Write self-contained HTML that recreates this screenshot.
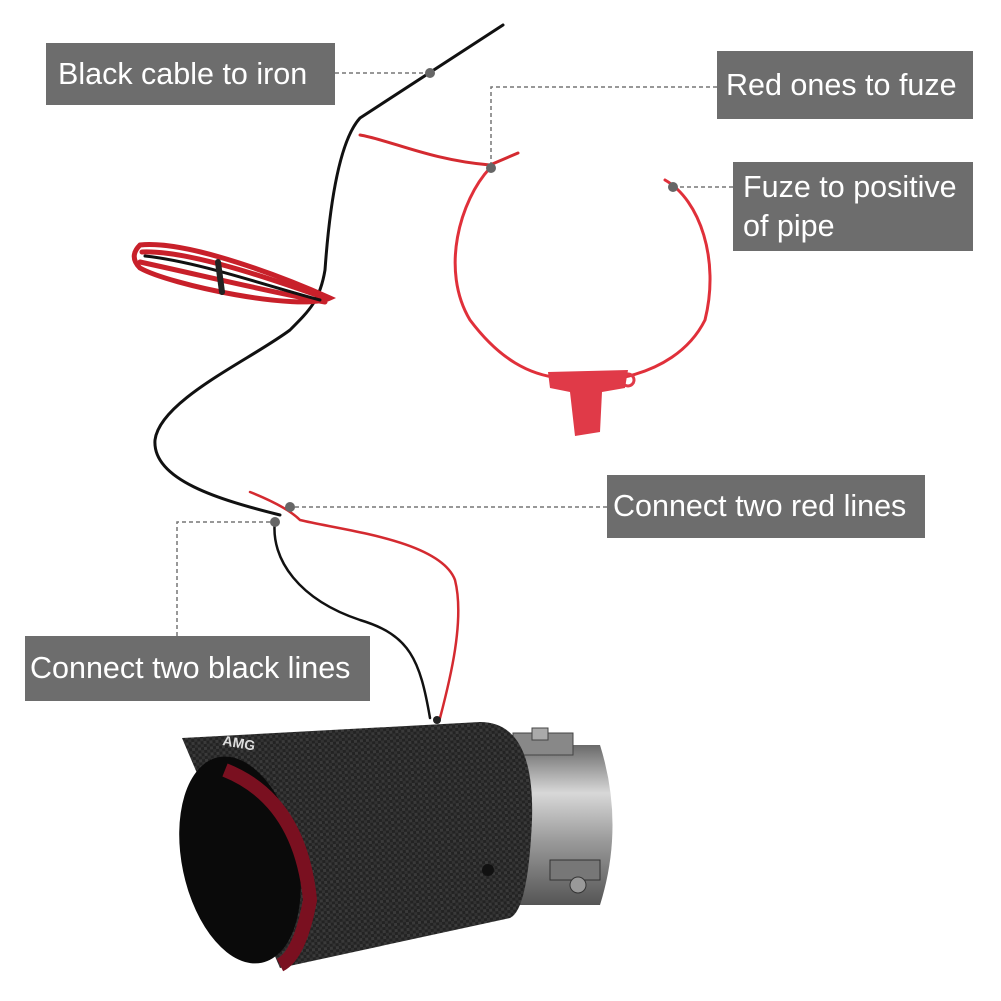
<!DOCTYPE html>
<html><head><style>
body{margin:0;background:#fff;width:1001px;height:1001px;overflow:hidden;position:relative;font-family:"Liberation Sans",sans-serif}
.lb{position:absolute;background:#6d6d6d;color:#fff;font-size:30.5px;line-height:39px;padding:0 12px;box-sizing:border-box;display:flex;align-items:center;white-space:nowrap}
</style></head><body>
<svg width="1001" height="1001" style="position:absolute;left:0;top:0">
<defs>
<pattern id="cf" width="6" height="6" patternUnits="userSpaceOnUse" patternTransform="rotate(-5)">
<rect width="6" height="6" fill="#232323"/><rect width="3" height="3" fill="#3a3a3a"/><rect x="3" y="3" width="3" height="3" fill="#333"/></pattern>
<linearGradient id="st" x1="0" y1="0" x2="0" y2="1"><stop offset="0" stop-color="#6a6a6a"/><stop offset=".3" stop-color="#d8d8d8"/><stop offset=".6" stop-color="#9a9a9a"/><stop offset="1" stop-color="#555"/></linearGradient>
</defs>
<g fill="none" stroke-linecap="round">
<path d="M503,25 L360,118 C340,140 330,200 325,270 C320,300 310,310 290,330 C250,360 160,400 155,440 C152,480 220,500 280,515" stroke="#111" stroke-width="3"/>
<path d="M360,135 C390,140 430,160 490,165 L518,153" stroke="#d42a30" stroke-width="3"/>
<!-- coil -->
<path d="M140,245 C190,240 290,280 330,298 C300,312 170,285 140,268 C130,258 135,250 140,245" stroke="#c8202a" stroke-width="5"/>
<path d="M142,252 C190,250 280,282 325,298" stroke="#c8202a" stroke-width="5"/>
<path d="M140,262 C200,275 270,292 325,302" stroke="#c8202a" stroke-width="5"/>
<path d="M145,256 C200,262 270,287 320,300" stroke="#111" stroke-width="3"/>
<path d="M218,262 L222,292" stroke="#222" stroke-width="6"/>
<!-- fuse loop -->
<path d="M490,168 C460,200 440,270 470,320 C500,360 530,375 560,378" stroke="#e0303a" stroke-width="3"/>
<path d="M665,180 C700,200 720,260 705,320 C690,350 660,370 620,378" stroke="#e0303a" stroke-width="3"/>
<path d="M250,492 C270,500 290,510 300,520 C340,530 440,540 455,580 C465,620 450,680 440,718" stroke="#d42a30" stroke-width="2.5"/>
<path d="M275,520 C270,560 300,600 360,620 C410,635 420,660 430,718" stroke="#111" stroke-width="2.5"/>
</g>
<path d="M548,372 L628,370 L625,388 L602,392 L600,432 L575,436 L570,392 L550,388 Z" fill="#e03a48"/>
<circle cx="628" cy="380" r="6" fill="none" stroke="#e03a48" stroke-width="3"/>
<path d="M510,745 L600,745 Q625,825 600,905 L510,905 Z" fill="url(#st)"/>
<rect x="513" y="733" width="60" height="22" fill="#888" stroke="#444"/>
<rect x="532" y="728" width="16" height="12" fill="#aaa" stroke="#444"/>
<rect x="550" y="860" width="50" height="20" fill="#777" stroke="#333"/>
<circle cx="578" cy="885" r="8" fill="#999" stroke="#333"/>
<path d="M182,738 L480,722 Q535,722 532,820 Q528,910 510,918 L280,968 Z" fill="url(#cf)"/>
<ellipse cx="240" cy="860" rx="58" ry="105" transform="rotate(-12 240 860)" fill="#0a0a0a"/>
<path d="M225,770 Q300,800 310,900 Q300,955 280,965" fill="none" stroke="#7a1020" stroke-width="14"/>
<circle cx="488" cy="870" r="6" fill="#111"/>
<circle cx="437" cy="720" r="4" fill="#222"/>
<text x="222" y="745" font-family="Liberation Sans" font-size="14" font-weight="bold" fill="#ddd" transform="rotate(10 222 745)">AMG</text>
<g stroke="#777" stroke-width="1.5" stroke-dasharray="4,3" fill="none">
<path d="M335,73 L430,73"/>
<path d="M717,87 L491,87 L491,168"/>
<path d="M733,187 L673,187"/>
<path d="M607,507 L290,507"/>
<path d="M177,636 L177,522 L275,522"/>
</g>
<g fill="#666"><circle cx="430" cy="73" r="5"/><circle cx="491" cy="168" r="5"/><circle cx="673" cy="187" r="5"/><circle cx="290" cy="507" r="5"/><circle cx="275" cy="522" r="5"/></g>
</svg>
<div class="lb" style="left:46px;top:43px;width:289px;height:62px">Black cable to iron</div>
<div class="lb" style="left:717px;top:51px;width:256px;height:68px;padding-left:9px">Red ones to fuze</div>
<div class="lb" style="left:733px;top:162px;width:240px;height:89px;padding-left:10px">Fuze to positive<br>of pipe</div>
<div class="lb" style="left:607px;top:475px;width:318px;height:63px;padding-left:6px">Connect two red lines</div>
<div class="lb" style="left:25px;top:636px;width:345px;height:65px;padding-left:5px">Connect two black lines</div>
</body></html>
